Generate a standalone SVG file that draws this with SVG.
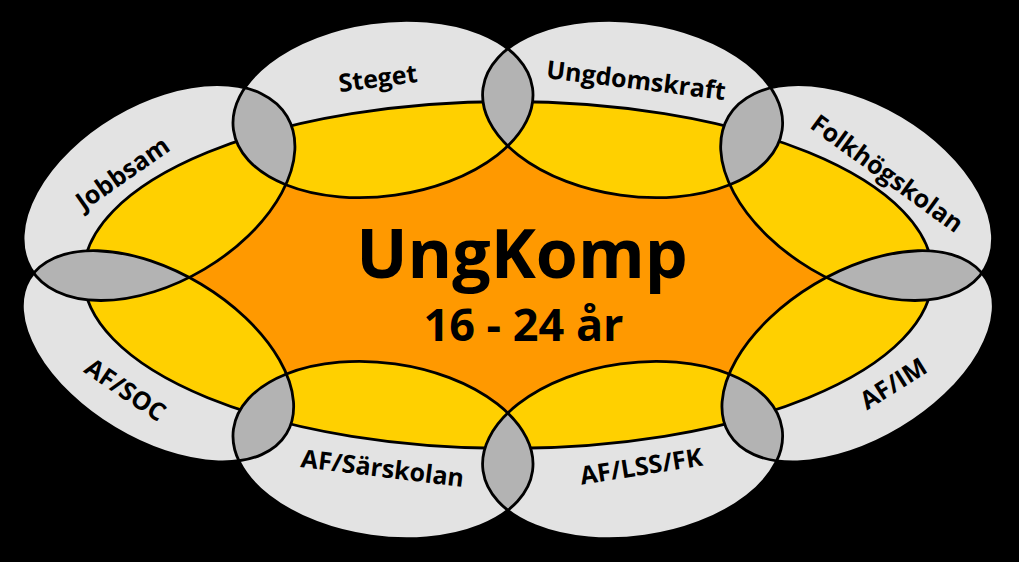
<svg xmlns="http://www.w3.org/2000/svg" xmlns:xlink="http://www.w3.org/1999/xlink" width="1019" height="562" viewBox="0 0 1019 562">
  <style>
    .outer { fill: #e3e3e3; stroke: none; }
    .lens { fill: #b3b3b3; stroke: none; }
    .line { fill: none; stroke: #000; stroke-width: 2.8; }
    .orange { fill: #ff9900; }
    .yellow { fill: #ffd000; }
    .lbl { font-family: "Open Sans", "Liberation Sans", sans-serif; font-weight: 700; font-size: 25px; fill: #000; text-anchor: middle; }
    .big { font-family: "Open Sans", "Liberation Sans", sans-serif; font-weight: 700; fill: #000; text-anchor: middle; }
  </style>
  <defs>
    <ellipse id="eS" cx="0" cy="0" rx="151" ry="87" transform="translate(383 109) rotate(-8)"/>
    <ellipse id="eU" cx="0" cy="0" rx="151" ry="87" transform="translate(632.6 109) rotate(8)"/>
    <ellipse id="eF" cx="0" cy="0" rx="149" ry="89" transform="translate(856.6 192.6) rotate(30.7)"/>
    <ellipse id="eI" cx="0" cy="0" rx="150" ry="84" transform="translate(857.6 356.3) rotate(-31)"/>
    <ellipse id="eL" cx="0" cy="0" rx="151" ry="87" transform="translate(632.6 450) rotate(-8)"/>
    <ellipse id="eR" cx="0" cy="0" rx="151" ry="87" transform="translate(383 450) rotate(8)"/>
    <ellipse id="eO" cx="0" cy="0" rx="150" ry="84" transform="translate(158 356.3) rotate(31)"/>
    <ellipse id="eJ" cx="0" cy="0" rx="149" ry="89" transform="translate(159 192.6) rotate(-30.7)"/>
    <ellipse id="eC" cx="508" cy="275" rx="424.7" ry="173.5"/>
    <clipPath id="cAll">
      <use xlink:href="#eS"/><use xlink:href="#eU"/><use xlink:href="#eF"/><use xlink:href="#eI"/>
      <use xlink:href="#eL"/><use xlink:href="#eR"/><use xlink:href="#eO"/><use xlink:href="#eJ"/>
    </clipPath>
    <clipPath id="cS"><use xlink:href="#eS"/></clipPath>
    <clipPath id="cU"><use xlink:href="#eU"/></clipPath>
    <clipPath id="cF"><use xlink:href="#eF"/></clipPath>
    <clipPath id="cI"><use xlink:href="#eI"/></clipPath>
    <clipPath id="cL"><use xlink:href="#eL"/></clipPath>
    <clipPath id="cR"><use xlink:href="#eR"/></clipPath>
    <clipPath id="cO"><use xlink:href="#eO"/></clipPath>
    <clipPath id="cJ"><use xlink:href="#eJ"/></clipPath>
  </defs>

  <rect x="0" y="0" width="1019" height="562" fill="#000"/>

  <g id="node-steget">
    <use xlink:href="#eS" class="outer"/>
    <text class="lbl" transform="translate(379 87) rotate(-7.5)">Steget</text>
  </g>
  <g id="node-ungdomskraft">
    <use xlink:href="#eU" class="outer"/>
    <text class="lbl" transform="translate(635 89) rotate(7)">Ungdomskraft</text>
  </g>
  <g id="node-folkhogskolan">
    <use xlink:href="#eF" class="outer"/>
    <text class="lbl" transform="translate(882 180.5) rotate(36)">Folkhögskolan</text>
  </g>
  <g id="node-af-im">
    <use xlink:href="#eI" class="outer"/>
    <text class="lbl" transform="translate(898 391) rotate(-32)">AF/IM</text>
  </g>
  <g id="node-af-lss-fk">
    <use xlink:href="#eL" class="outer"/>
    <text class="lbl" transform="translate(642.5 475) rotate(-9)">AF/LSS/FK</text>
  </g>
  <g id="node-af-sarskolan">
    <use xlink:href="#eR" class="outer"/>
    <text class="lbl" transform="translate(381.5 477) rotate(7)">AF/Särskolan</text>
  </g>
  <g id="node-af-soc">
    <use xlink:href="#eO" class="outer"/>
    <text class="lbl" transform="translate(120.5 397) rotate(34)">AF/SOC</text>
  </g>
  <g id="node-jobbsam">
    <use xlink:href="#eJ" class="outer"/>
    <text class="lbl" transform="translate(127.5 180.5) rotate(-35)">Jobbsam</text>
  </g>

  <g id="node-ungkomp">
    <use xlink:href="#eC" class="orange"/>
    <use xlink:href="#eC" class="yellow" clip-path="url(#cAll)"/>
    <use xlink:href="#eC" class="line"/>
    <text class="big" x="522" y="278" font-size="68">UngKomp</text>
    <text class="big" x="523.5" y="341" font-size="45">16 - 24 år</text>
  </g>

  <g id="overlaps">
    <use xlink:href="#eJ" class="lens" clip-path="url(#cS)"/>
    <use xlink:href="#eS" class="lens" clip-path="url(#cU)"/>
    <use xlink:href="#eU" class="lens" clip-path="url(#cF)"/>
    <use xlink:href="#eF" class="lens" clip-path="url(#cI)"/>
    <use xlink:href="#eI" class="lens" clip-path="url(#cL)"/>
    <use xlink:href="#eL" class="lens" clip-path="url(#cR)"/>
    <use xlink:href="#eR" class="lens" clip-path="url(#cO)"/>
    <use xlink:href="#eO" class="lens" clip-path="url(#cJ)"/>
  </g>

  <g id="outlines">
    <use xlink:href="#eS" class="line"/>
    <use xlink:href="#eU" class="line"/>
    <use xlink:href="#eF" class="line"/>
    <use xlink:href="#eI" class="line"/>
    <use xlink:href="#eL" class="line"/>
    <use xlink:href="#eR" class="line"/>
    <use xlink:href="#eO" class="line"/>
    <use xlink:href="#eJ" class="line"/>
  </g>
</svg>
